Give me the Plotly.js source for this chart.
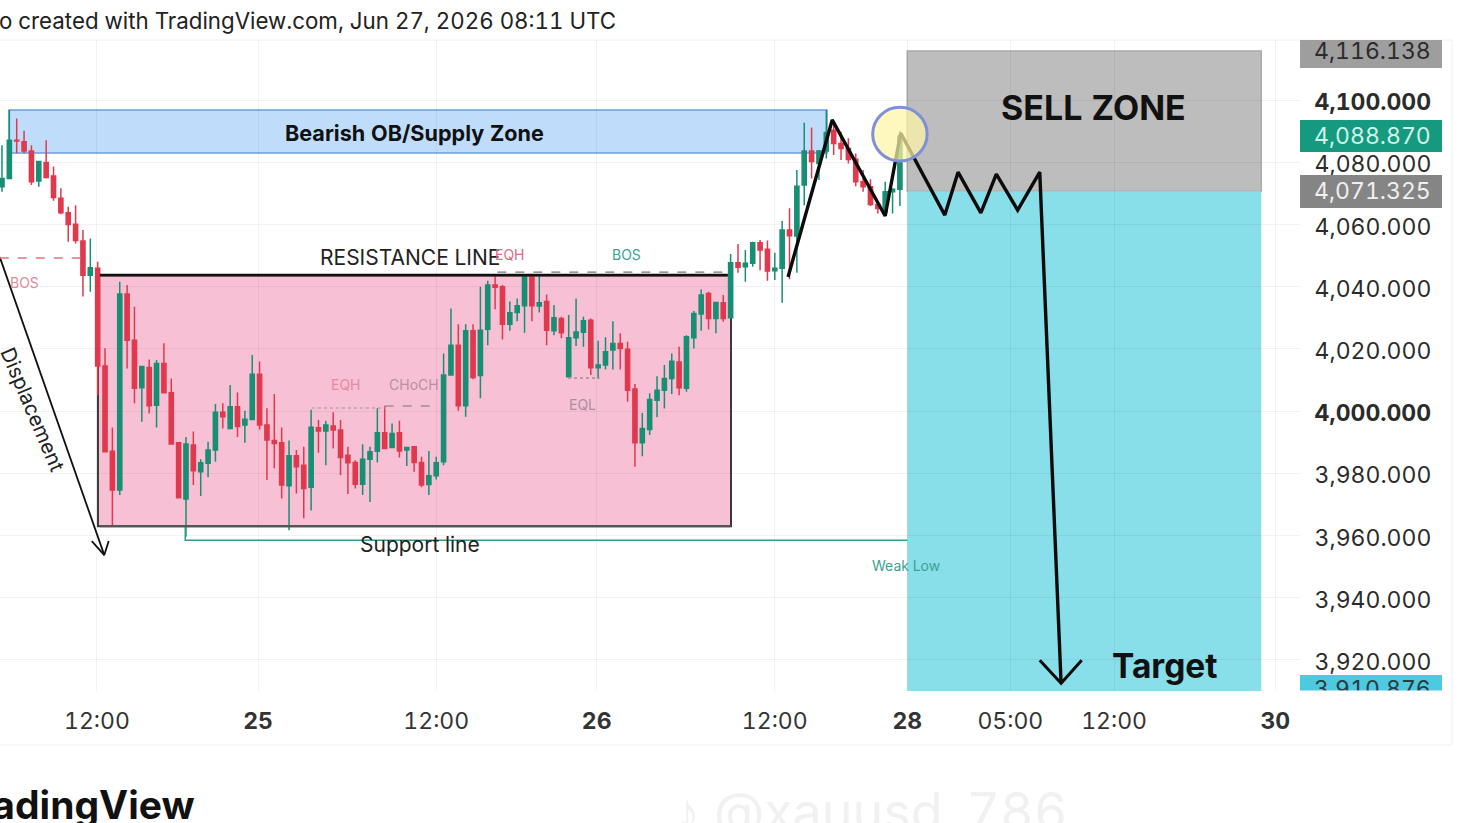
<!DOCTYPE html>
<html><head><meta charset="utf-8">
<script src="https://cdn.plot.ly/plotly-3.0.1.min.js"></script>
<style>html,body{margin:0;padding:0;background:#fff;overflow:hidden}
svg text{font-feature-settings:"tnum" 1;font-variant-numeric:tabular-nums}</style>
</head><body><div id="chart" style="width:1462px;height:823px"></div>
<script>
const opens=[4072.1,4074.8,4087.1,4086.6,4083.6,4074.0,4079.9,4075.6,4068.4,4063.8,
4060.1,4054.7,4043.7,4045.9,4014.5,3987.1,3974.6,4037.6,4022.8,4007.5,
4014.0,4001.9,4015.3,4005.9,3989.8,3971.7,3989.1,3980.5,3983.2,3987.5,
3999.6,3994.4,4001.4,3995.5,3997.3,4011.8,3995.5,3990.5,3989.8,3976.0,
3985.6,3982.6,3975.5,3994.6,3993.6,3995.2,3993.9,3985.8,3983.5,3976.5,
3984.5,3987.1,3993.0,3988.3,3993.0,3987.5,3988.5,3983.5,3976.4,3979.2,
3983.7,4011.6,4021.2,4001.7,4025.8,4011.4,4026.3,4040.5,4040.0,4027.9,
4031.7,4033.9,4043.5,4033.8,4035.2,4025.8,4029.8,4011.0,4023.6,4025.3,
4029.2,4013.9,4014.8,4019.6,4021.7,4019.9,4007.1,3989.8,3994.1,4003.5,
4006.7,4010.5,4015.8,4007.3,4023.6,4031.2,4037.8,4029.8,4034.8,4030.0,
4047.7,4046.4,4047.5,4054.1,4052.0,4045.1,4045.9,4058.2,4056.3,4072.7,
4083.6,4079.6,4083.6,4090.3,4086.0,4084.4,4081.0,4073.7,4072.1,4066.4,
4064.1,4070.5,4071.3];
const highs=[4085.5,4096.8,4094.1,4090.1,4085.5,4080.2,4087.1,4078.6,4071.6,4065.7,
4066.2,4058.2,4055.5,4048.0,4020.2,3994.7,4041.6,4040.5,4033.5,4014.3,
4016.6,4016.4,4021.8,4010.5,3989.8,3991.7,3993.4,3984.5,3990.1,4002.3,
4002.5,4008.4,4006.0,4000.1,4018.0,4015.9,4000.9,4005.5,3994.7,3990.5,
3987.5,3988.5,4000.4,3997.1,3996.9,3999.6,3997.1,3988.5,3984.2,3989.3,
3988.5,4000.9,4001.6,3996.0,3996.9,3988.5,3988.7,3985.3,3987.2,3985.3,
4018.5,4033.0,4027.9,4027.9,4027.9,4040.0,4041.9,4043.7,4040.5,4035.2,
4036.2,4043.7,4043.7,4043.7,4037.5,4034.1,4030.3,4030.9,4036.2,4030.3,
4029.8,4022.6,4023.7,4028.9,4025.0,4022.3,4008.7,3999.4,4005.7,4011.2,
4014.8,4018.5,4020.7,4024.4,4032.2,4039.1,4038.4,4035.1,4037.3,4050.5,
4053.7,4051.8,4054.4,4055.0,4054.8,4050.9,4061.1,4065.2,4077.5,4092.7,
4091.2,4083.9,4096.8,4092.5,4089.8,4087.7,4082.8,4077.5,4074.5,4067.3,
4073.7,4071.6,4090.1];
const lows=[4070.5,4074.8,4082.9,4082.9,4072.7,4072.1,4074.8,4067.6,4063.3,4054.4,
4053.9,4036.8,4038.4,4005.1,3986.9,3963.3,3973.0,4013.7,4002.5,3996.6,
3999.2,3994.7,4005.7,3989.4,3971.9,3959.6,3976.2,3972.7,3978.7,3983.7,
3994.4,3994.1,3991.7,3989.8,3997.1,3994.1,3977.8,3981.6,3971.9,3961.7,
3973.5,3965.5,3968.0,3986.6,3982.6,3988.0,3979.4,3973.3,3975.1,3973.0,
3970.8,3983.5,3987.7,3988.3,3985.1,3982.3,3980.5,3975.5,3973.0,3978.0,
3982.6,4011.6,4000.1,3998.2,4010.2,4004.1,4021.2,4032.7,4023.0,4025.8,
4028.9,4025.2,4028.9,4031.7,4021.2,4024.4,4023.4,4011.0,4020.9,4020.7,
4011.6,4010.5,4013.4,4013.4,4013.4,4003.0,3982.1,3985.5,3992.3,3998.0,
4000.8,4005.5,4005.1,4006.2,4020.1,4025.8,4026.2,4025.0,4028.7,4029.8,
4044.5,4041.6,4046.4,4045.3,4041.9,4042.1,4034.8,4042.4,4044.5,4066.2,
4074.8,4074.3,4081.2,4082.3,4080.7,4079.6,4072.3,4070.5,4065.9,4063.5,
4063.0,4063.5,4065.9];
const closes=[4074.8,4087.1,4086.8,4083.6,4073.7,4080.2,4075.1,4068.7,4063.8,4060.0,
4054.8,4043.7,4046.1,4014.5,3986.9,3974.6,4037.6,4022.8,4007.3,4014.3,
4001.7,4015.3,4005.9,3989.4,3972.1,3989.4,3980.8,3983.4,3987.5,3999.6,
3998.2,4001.4,3995.0,3997.4,4011.8,3995.5,3990.7,3989.6,3976.2,3985.6,
3982.1,3975.1,3994.8,3993.6,3995.5,3993.9,3985.1,3983.4,3976.5,3984.5,
3986.9,3993.0,3988.0,3992.8,3987.2,3988.3,3983.5,3976.2,3979.2,3983.4,
4011.6,4021.2,4001.7,4025.8,4010.8,4026.0,4040.5,4039.8,4027.9,4031.6,
4033.9,4043.7,4033.9,4034.8,4026.0,4030.0,4025.2,4023.6,4025.4,4029.0,
4013.9,4014.8,4019.1,4021.7,4020.1,4006.7,3989.8,3994.4,4003.7,4006.7,
4010.5,4016.0,4007.5,4023.9,4031.4,4037.3,4029.8,4034.9,4029.8,4047.7,
4046.2,4047.5,4054.1,4051.8,4045.0,4045.9,4058.2,4056.4,4072.3,4083.6,
4080.2,4083.6,4089.6,4086.0,4084.4,4080.9,4073.7,4072.1,4066.4,4065.1,
4070.5,4071.3,4088.4];
const barIndex=opens.map((_,i)=>i);

const timeTickBars=[12.9,34.8,59,80.8,105,123,137,151.1,173];
const timeTickText=['12:00','<b>25</b>','12:00','<b>26</b>','12:00','<b>28</b>','05:00','12:00','<b>30</b>'];
const priceTicks=[4100,4080,4060,4040,4020,4000,3980,3960,3940,3920];
const priceText=['<b>4,100.000</b>','4,080.000','4,060.000','4,040.000','4,020.000','<b>4,000.000</b>','3,980.000','3,960.000','3,940.000','3,920.000'];

const pathBars=[106.8,112.8,120.0,122.1,128.1,129.9,133.0,135.1,138.0,141.0,143.9];
const pathPrices=[4043.1,4093.6,4062.7,4089.4,4063.0,4076.8,4063.7,4076.2,4064.6,4076.8,3912.5];
const targetHeadBars=[141.0,143.9,146.7];
const targetHeadPrices=[3919.9,3912.5,3919.9];
const dispBars=[-0.3,13.9];
const dispPrices=[4049.5,3953.7];
const dispHeadBars=[12.2,13.9,14.5];
const dispHeadPrices=[3958.2,3953.7,3958.2];
const weakBars=[24.9,24.9,123];
const weakPrices=[3963,3958.5,3958.5];

const W=1462,H=823;
const RED='#E0394D',GREEN='#178F74';
const FONT='Inter, Roboto, sans-serif';

function lineTrace(x,y,color,width,dash){
  return {type:'scatter',mode:'lines',x:x,y:y,hoverinfo:'skip',showlegend:false,
    line:{color:color,width:width,dash:dash||'solid',shape:'linear'},cliponaxis:true};
}
const traces=[
  {type:'candlestick',x:barIndex,open:opens,high:highs,low:lows,close:closes,showlegend:false,hoverinfo:'skip',
   whiskerwidth:0,
   increasing:{line:{color:GREEN,width:1.5},fillcolor:GREEN},
   decreasing:{line:{color:RED,width:1.5},fillcolor:RED}},
  lineTrace(weakBars,weakPrices,'#2F9E8B',1.5),
  lineTrace(dispBars,dispPrices,'#111',1.8),
  lineTrace(dispHeadBars,dispHeadPrices,'#111',1.8),
  lineTrace(pathBars,pathPrices,'#0b0b0b',3.4),
  lineTrace(targetHeadBars,targetHeadPrices,'#0b0b0b',3)
];

function zone(x0,x1,y0,y1,fill,line,lw,layer){
  return {type:'rect',xref:'x',yref:'y',x0,x1,y0,y1,fillcolor:fill,line:{color:line,width:lw},layer:layer||'below'};
}
function hl(x0,x1,y,color,w,dash){
  return {type:'line',xref:'x',yref:'y',x0,x1,y0:y,y1:y,line:{color,width:w,dash:dash||'solid'},layer:'above'};
}
function badgeShape(top,bottom,color){
  return {type:'rect',xref:'paper',yref:'paper',x0:1300/W,x1:1442/W,y0:1-bottom/H,y1:1-top/H,fillcolor:color,line:{width:0},layer:'above'};
}
const shapes=[
  zone(0.95,112.1,4083,4096.8,'rgba(144,196,248,0.58)','#6C9FDB',1.5),
  zone(13.04,99.05,3963,4043.7,'rgba(241,130,170,0.5)','#3a3a3a',2),
  zone(123,171.1,4070.7,4115.8,'#BDBDBD','#ABABAB',1.5),
  zone(123,171.1,3910,4070.7,'#88DEE9','#88DEE9',0),
  hl(13.3,98.6,4043.7,'#111',2.6),
  hl(13.3,99,3963,'#555',2.4),
  hl(-0.3,11.3,4049.2,'#E57385',1.5,'dash'),
  hl(67.3,98.6,4044.7,'#777',1.2,'dash'),
  hl(42.1,52,4001,'#B9A3AE',1.5,'dot'),
  hl(52,59.1,4001.6,'#9d8d95',1.5,'dash'),
  hl(76.9,81.2,4010.6,'#9d8d95',1.5,'dot'),
  {type:'circle',xref:'x',yref:'y',x0:118.3,x1:125.7,y0:4080.4,y1:4097.7,fillcolor:'rgba(255,245,165,0.72)',line:{color:'#7F90D8',width:3},layer:'above'},
  badgeShape(40,68,'#9E9E9E'),
  badgeShape(120,152,'#159A80'),
  badgeShape(175,208,'#858585'),
  badgeShape(675,691,'#4DC9E0'),
  {type:'line',xref:'paper',yref:'paper',x0:0,x1:1452/W,y0:1-40/H,y1:1-40/H,line:{color:'#F0F0F0',width:1},layer:'below'},
  {type:'line',xref:'paper',yref:'paper',x0:0,x1:1452/W,y0:1-745/H,y1:1-745/H,line:{color:'#EFEFEF',width:1},layer:'below'},
  {type:'line',xref:'paper',yref:'paper',x0:1452/W,x1:1452/W,y0:1-40/H,y1:1-745/H,line:{color:'#F0F0F0',width:1},layer:'below'}
];
function note(text,x,y,size,color,extra){
  return Object.assign({text,x,y,xref:'x',yref:'y',showarrow:false,xanchor:'center',yanchor:'middle',
    font:{family:FONT,size,color}},extra||{});
}
function pnote(text,px,py,size,color,extra){
  return Object.assign({text,x:px/W,y:1-py/H,xref:'paper',yref:'paper',showarrow:false,xanchor:'center',yanchor:'middle',
    font:{family:FONT,size,color}},extra||{});
}
const annotations=[
  note('<b>Bearish OB/Supply Zone</b>',56,4089.4,21.6,'#111'),
  note('RESISTANCE LINE',55.4,4049.5,21,'#222'),
  note('Support line',56.8,3957.2,21,'#222'),
  note('EQH',46.7,4008.7,14,'#E58AA0'),
  note('CHoCH',56,4008.7,14,'#B78FA3'),
  note('EQL',78.9,4002,14,'#AB8FA0'),
  note('EQH',69,4050.2,14,'#E06A80'),
  note('BOS',84.9,4050.2,14,'#3AA392'),
  note('BOS',3,4041.2,14,'#E58A9A'),
  note('Weak Low',122.8,3950.2,14,'#3AA392'),
  note('Displacement',4.2,4000.6,20.5,'#222',{textangle:67}),
  note('<b>SELL ZONE</b>',148.3,4097.7,34,'#111'),
  note('<b>Target</b>',158,3918,33.5,'#111'),
  pnote('4,116.138',1372,51,23,'#2b2b2b'),
  pnote('4,088.870',1372,136,23,'#CFF3EA'),
  pnote('4,071.325',1372,191,23,'#F0F0F0'),
  pnote('3,910.876',1372,689,23,'#2b3b40'),
  pnote(' ',1372,702,10,'#fff',{bgcolor:'#fff',width:146,height:21}),
  pnote('o created with TradingView.com, Jun 27, 2026 08:11 UTC',-3,21,22.3,'#222',{xanchor:'left'}),
  pnote('<b>radingView</b>',-25,804,39,'#111',{xanchor:'left'}),
  pnote('♪ @xauusd_786',870,811,52,'#F1F1F1')
];
const layout={
  width:W,height:H,margin:{l:0,r:0,t:0,b:0},paper_bgcolor:'#fff',plot_bgcolor:'#fff',showlegend:false,boxgap:0.2,
  xaxis:{domain:[0,1300/W],range:[-0.27,176.36],rangeslider:{visible:false},type:'linear',
    tickmode:'array',tickvals:timeTickBars,ticktext:timeTickText,showgrid:true,gridcolor:'rgba(0,0,0,0.05)',gridwidth:1,
    zeroline:false,showline:false,ticks:'outside',ticklen:9,tickcolor:'rgba(0,0,0,0)',
    tickfont:{family:FONT,size:23,color:'#333'},tickangle:0,automargin:false},
  yaxis:{domain:[132/H,783/H],range:[3910,4119.3],side:'right',type:'linear',
    tickmode:'array',tickvals:priceTicks,ticktext:priceText,showgrid:true,gridcolor:'rgba(0,0,0,0.05)',gridwidth:1,
    zeroline:false,showline:false,ticks:'outside',ticklen:9,tickcolor:'rgba(0,0,0,0)',ticklabelshift:2,
    tickfont:{family:FONT,size:23,color:'#2b2b2b'},automargin:false},
  shapes,annotations,hovermode:false,dragmode:false
};
Plotly.newPlot('chart',traces,layout,{displayModeBar:false,staticPlot:true});
</script></body></html>
